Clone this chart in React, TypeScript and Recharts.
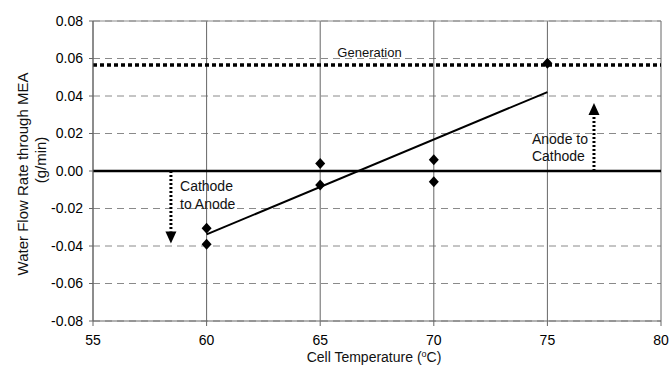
import {
  ComposedChart, Line, Scatter, XAxis, YAxis, CartesianGrid,
  ReferenceLine, ReferenceDot, Label,
} from "recharts";

// measured water flow through the MEA (g/min) at each cell temperature (°C)
const temps = [60, 60, 65, 65, 70, 70, 75];
const flows = [-0.0305, -0.039, 0.004, -0.0075, 0.006, -0.0057, 0.0575];

// linear fit through the measurements
const trendTemps = [60, 75];
const trendFlows = [-0.0338, 0.0421];

// water generation rate
const generation = 0.0565;

// arrows: x position, where they start and where the tip ends
const arrowTemps = [58.43, 77.05];
const arrowTips = [-0.0386, 0.0363];

const xTicks = [55, 60, 65, 70, 75, 80];
const yTicks = [-0.08, -0.06, -0.04, -0.02, 0, 0.02, 0.04, 0.06, 0.08];

const points = temps.map((t, i) => ({ x: t, y: flows[i] }));
const trend = trendTemps.map((t, i) => ({ x: t, y: trendFlows[i] }));

const FONT = "'Liberation Sans', Arial, sans-serif";
const HEAD = 0.0064; // arrowhead length in data units

const notes = [
  { x: 67.17, y: 0.0609, lines: ["Generation"], size: 13, anchor: "middle" },
  { x: 58.83, y: -0.0109, lines: ["Cathode", "to Anode"], size: 14, anchor: "start" },
  { x: 74.32, y: 0.0146, lines: ["Anode to", "Cathode"], size: 14, anchor: "start" },
];

function Diamond(props: any) {
  const { cx, cy } = props;
  if (cx == null || cy == null) return null;
  return (
    <polygon
      points={`${cx},${cy - 5.5} ${cx + 5},${cy} ${cx},${cy + 5.5} ${cx - 5},${cy}`}
      fill="#000"
    />
  );
}

function arrowHead(up: boolean) {
  return (props: any) => {
    const { cx, cy } = props;
    const h = 12;
    const w = 5.5;
    const base = up ? cy + h : cy - h;
    return (
      <polygon
        points={`${cx},${cy} ${cx - w},${base} ${cx + w},${base}`}
        fill="#000"
      />
    );
  };
}

function noteShape(lines: string[], size: number, anchor: any) {
  return (props: any) => (
    <text
      x={props.cx}
      y={props.cy}
      fontSize={size}
      fontFamily={FONT}
      fill="#111"
      textAnchor={anchor}
    >
      {lines.map((l, i) => (
        <tspan key={i} x={props.cx} dy={i === 0 ? 0 : 17.5}>
          {l}
        </tspan>
      ))}
    </text>
  );
}

function YTitle(props: any) {
  const { viewBox } = props;
  const cy = viewBox.y + viewBox.height / 2;
  const x1 = viewBox.x + 28;
  const x2 = viewBox.x + 46;
  const c1 = cy + 3;
  const c2 = cy - 11;
  return (
    <g fontFamily={FONT} fontSize={15} fill="#111">
      <text x={x1} y={c1} textAnchor="middle" transform={`rotate(-90 ${x1} ${c1})`}>
        Water Flow Rate through MEA
      </text>
      <text x={x2} y={c2} textAnchor="middle" transform={`rotate(-90 ${x2} ${c2})`}>
        (g/min)
      </text>
    </g>
  );
}

function XTitle(props: any) {
  const { viewBox } = props;
  const cx = viewBox.x + viewBox.width / 2 - 3;
  return (
    <text x={cx} y={viewBox.y + 41} textAnchor="middle" fontFamily={FONT} fontSize={14} fill="#111">
      Cell Temperature (
      <tspan dy={-5} fontSize={9}>o</tspan>
      <tspan dy={5}>C)</tspan>
    </text>
  );
}

export default function App() {
  return (
    <div style={{ position: "absolute", left: 0, top: 0, background: "#fff" }}>
      <ComposedChart
        width={669}
        height={371}
        margin={{ top: 21, right: 8, bottom: 0, left: 0 }}
        style={{ fontFamily: FONT }}
      >
        <CartesianGrid vertical={false} stroke="#8a8a8a" strokeDasharray="7 5" />
        <CartesianGrid horizontal={false} stroke="#666" />
        <XAxis
          type="number"
          dataKey="x"
          domain={[55, 80]}
          ticks={xTicks}
          height={50}
          tickSize={5}
          tickMargin={9}
          tick={{ fill: "#000", fontSize: 14 }}
          axisLine={{ stroke: "#666" }}
          tickLine={{ stroke: "#666" }}
        >
          <Label content={<XTitle />} />
        </XAxis>
        <YAxis
          type="number"
          domain={[-0.08, 0.08]}
          ticks={yTicks}
          width={93}
          tickSize={4}
          tickMargin={6}
          tickFormatter={(v: number) => v.toFixed(2)}
          tick={{ fill: "#000", fontSize: 14 }}
          axisLine={{ stroke: "#666" }}
          tickLine={{ stroke: "#666" }}
        >
          <Label content={<YTitle />} />
        </YAxis>
        <ReferenceLine y={0.08} stroke="#8a8a8a" />
        <ReferenceLine y={0} stroke="#000" strokeWidth={2.5} />
        <ReferenceLine y={generation} stroke="#000" strokeWidth={3.5} strokeDasharray="4 3" />
        {arrowTemps.map((t, i) => {
          const up = arrowTips[i] > 0;
          const end = up ? arrowTips[i] - HEAD : arrowTips[i] + HEAD;
          return (
            <ReferenceLine
              key={"a" + i}
              segment={[{ x: t, y: 0 }, { x: t, y: end }]}
              stroke="#000"
              strokeWidth={3}
              strokeDasharray="2 2"
            />
          );
        })}
        {arrowTemps.map((t, i) => (
          <ReferenceDot
            key={"h" + i}
            x={t}
            y={arrowTips[i]}
            shape={arrowHead(arrowTips[i] > 0)}
          />
        ))}
        <Line
          data={trend}
          dataKey="y"
          type="linear"
          stroke="#000"
          strokeWidth={2}
          dot={false}
          activeDot={false}
          isAnimationActive={false}
        />
        <Scatter data={points} dataKey="y" shape={<Diamond />} isAnimationActive={false} />
        {notes.map((n, i) => (
          <ReferenceDot
            key={"n" + i}
            x={n.x}
            y={n.y}
            shape={noteShape(n.lines, n.size, n.anchor)}
          />
        ))}
      </ComposedChart>
    </div>
  );
}
